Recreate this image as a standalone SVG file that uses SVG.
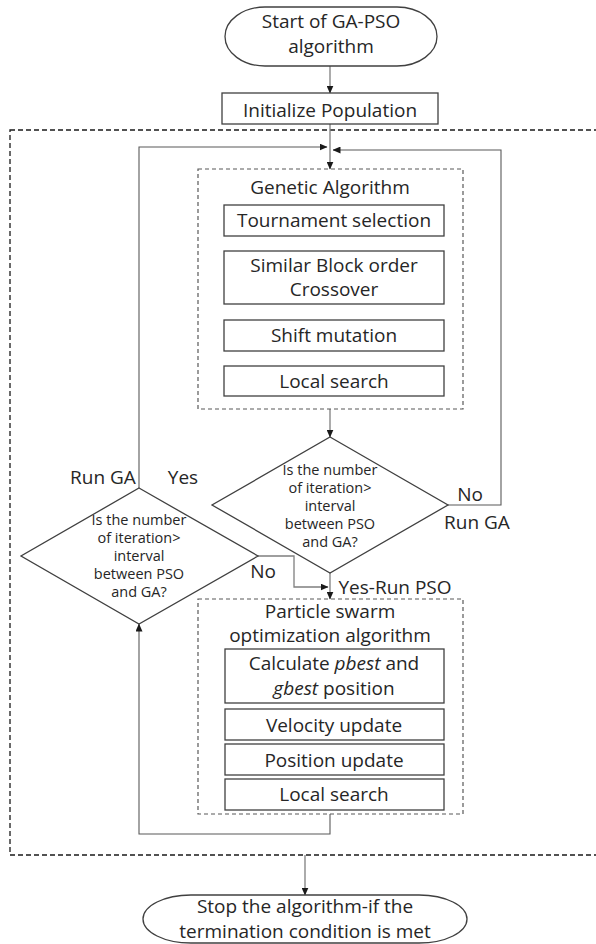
<svg xmlns="http://www.w3.org/2000/svg" width="596" height="944" viewBox="0 0 596 944">
<defs>
<marker id="arr" markerUnits="userSpaceOnUse" markerWidth="8" markerHeight="7" refX="7.5" refY="3.5" orient="auto">
<path d="M0,0 L8,3.5 L0,7 z" fill="#1a1a1a"/>
</marker>
<style>
text{font-family:"Open Sans","Liberation Sans",sans-serif;font-size:19px;fill:#262626;text-anchor:middle}
.sm{font-size:14.5px}
.box{fill:#fff;stroke:#404040;stroke-width:1.3}
.dia{fill:#fff;stroke:#404040;stroke-width:1.3}
.outer{fill:none;stroke:#1a1a1a;stroke-width:1.3;stroke-dasharray:5 3}
.inner{fill:none;stroke:#595959;stroke-width:1.2;stroke-dasharray:4 3}
.con{fill:none;stroke:#7f7f7f;stroke-width:1.3;marker-end:url(#arr)}
.loop{fill:none;stroke:#595959;stroke-width:1.1;marker-end:url(#arr)}
.it{font-style:italic}
</style>
</defs>
<rect id="outer-loop" class="outer" x="10" y="130" width="600" height="725"/>
<g id="connectors">
<path class="con" d="M330,66 V93"/>
<path class="con" d="M330,124 V169"/>
<path class="loop" d="M139,488 V147 H327"/>
<path class="loop" d="M448,505 H501 V150 H333"/>
<path class="con" d="M330,409 V437"/>
<path class="con" d="M330,573 V599"/>
<path class="con" d="M258,556 H294 V587 H328"/>
<path class="loop" d="M330,814 V834 H139 V624"/>
<path class="con" d="M305,855 V895"/>
</g>
<g id="start">
<rect class="box" x="225" y="7" width="212" height="59" rx="40" ry="29.5"/>
<text x="331" y="28">Start of GA-PSO<tspan x="331" dy="24.5">algorithm</tspan></text>
</g>
<g id="init">
<rect class="box" x="222" y="93" width="216" height="31"/>
<text x="330" y="116.5">Initialize Population</text>
</g>
<g id="ga">
<rect class="inner" x="198" y="169" width="265" height="240"/>
<text x="330" y="193.5">Genetic Algorithm</text>
</g>
<g id="tournament">
<rect class="box" x="224" y="205" width="220" height="31"/>
<text x="334" y="227">Tournament selection</text>
</g>
<g id="crossover">
<rect class="box" x="224" y="251" width="220" height="53"/>
<text x="334" y="271.5">Similar Block order<tspan x="334" dy="24.5">Crossover</tspan></text>
</g>
<g id="mutation">
<rect class="box" x="224" y="320" width="220" height="31"/>
<text x="334" y="342">Shift mutation</text>
</g>
<g id="ga-local">
<rect class="box" x="224" y="366" width="220" height="30"/>
<text x="334" y="387.5">Local search</text>
</g>
<g id="decision-right">
<polygon class="dia" points="330,437 448,505 330,573 212,505"/>
<text class="sm" x="330" y="475">Is the number<tspan x="330" dy="18">of iteration&gt;</tspan><tspan x="330" dy="18">interval</tspan><tspan x="330" dy="18">between PSO</tspan><tspan x="330" dy="18">and GA?</tspan></text>
</g>
<g id="decision-left">
<polygon class="dia" points="139,488 258,556 139,624 21,556"/>
<text class="sm" x="139" y="525">Is the number<tspan x="139" dy="18">of iteration&gt;</tspan><tspan x="139" dy="18">interval</tspan><tspan x="139" dy="18">between PSO</tspan><tspan x="139" dy="18">and GA?</tspan></text>
</g>
<g id="labels">
<text x="103" y="483.5">Run GA</text>
<text x="183" y="483.5">Yes</text>
<text x="263" y="577.5">No</text>
<text x="470" y="500.5">No</text>
<text x="477" y="528.5">Run GA</text>
<text x="395" y="593.5">Yes-Run PSO</text>
</g>
<g id="pso">
<rect class="inner" x="198" y="599" width="265" height="215"/>
<text x="330" y="617.5">Particle swarm<tspan x="330" dy="24.5">optimization algorithm</tspan></text>
</g>
<g id="calc">
<rect class="box" x="225" y="649" width="219" height="54"/>
<text x="334" y="670">Calculate <tspan class="it">pbest</tspan> and<tspan x="334" dy="24.5"><tspan class="it">gbest</tspan> position</tspan></text>
</g>
<g id="velocity">
<rect class="box" x="225" y="709" width="219" height="31"/>
<text x="334" y="731.5">Velocity update</text>
</g>
<g id="position">
<rect class="box" x="225" y="744" width="219" height="31"/>
<text x="334" y="766.5">Position update</text>
</g>
<g id="pso-local">
<rect class="box" x="225" y="779" width="219" height="31"/>
<text x="334" y="800.5">Local search</text>
</g>
<g id="stop">
<rect class="box" x="143" y="895" width="324" height="48" rx="48" ry="24"/>
<text x="305" y="913">Stop the algorithm-if the<tspan x="305" dy="24.5">termination condition is met</tspan></text>
</g>
</svg>
